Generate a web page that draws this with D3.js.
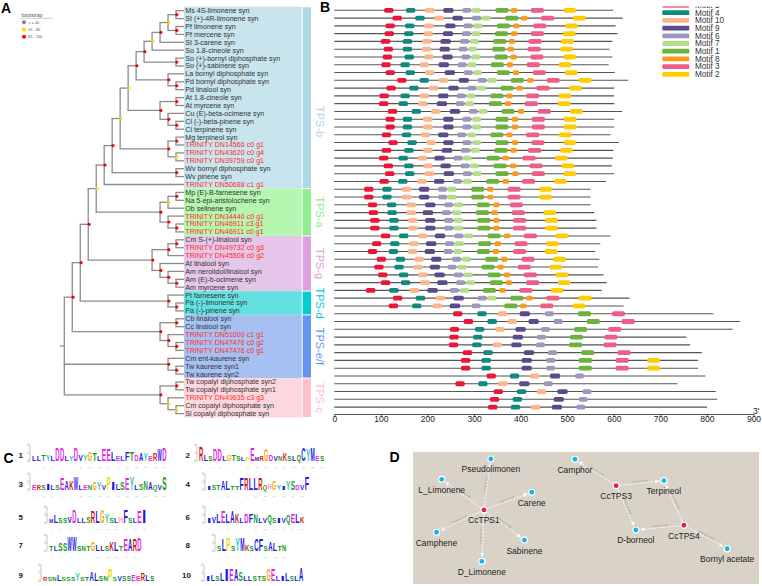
<!DOCTYPE html>
<html><head><meta charset="utf-8">
<script src="https://cdn.jsdelivr.net/npm/d3@7"></script>
<style>body{margin:0;background:#fff}svg{display:block}</style>
</head><body>
<svg id="chart" width="762" height="586"></svg>
<script>
// ===================== DATA =====================
const tipNames = ["Ms 4S-limonene syn","St (+)-4R-limonene syn","Pf limonene syn","Pf mercene syn","St 3-carene syn","So 1.8-cineole syn","So (+)-bornyl diphosphate syn","So (+)-sabinene syn","La bornyl diphosphate syn","Pd bornyl diphosphate syn","Pd linalool syn","At 1.8-cineole syn","At myrcene syn","Cu (E)-beta-ocimene syn","Cl (-)-beta-pinene syn","Cl terpinene syn","Mg terpineol syn","TRINITY DN14566 c0 g1","TRINITY DN43620 c0 g4","TRINITY DN39759 c0 g1","Wv bornyl diphosphate syn","Wv pinene syn","TRINITY DN50688 c1 g1","Mp (E)-B-farnesene syn","Na 5-epi-aristolochene syn","Ob selinene syn","TRINITY DN34440 c0 g1","TRINITY DN46911 c3 g1","TRINITY DN46911 c0 g1","Cm S-(+)-linalool syn","TRINITY DN49732 c0 g3","TRINITY DN45508 c0 g2","At linalool syn","Am nerolidol/linalool syn","Am (E)-b-ocimene syn","Am myrcene syn","Pt farnesene syn","Pa (-)-limonene syn","Pa (-)-pinene syn","Cb linalool syn","Cc linalool syn","TRINITY DN51000 c1 g1","TRINITY DN47476 c0 g2","TRINITY DN47476 c0 g1","Cm ent-kaurene syn","Tw kaurene syn1","Tw kaurene syn2","Tw copalyl diphosphate syn2","Tw copalyl diphosphate syn1","TRINITY DN49635 c3 g3","Cm copalyl diphosphate syn","Sl copalyl diphosphate syn"];

// topology: [bootstrapClass, child, child...]; leaves are indices into tipNames ("r" = 81-100, "y" = 41-80)
const cladeTPSb = ["r",["r",["y",["y",["r",["r",["y",["r",["y",["r",0,1],["r",2,3]],4],5],["r",6,7]],["r",8,["r",9,10]]],["r",["r",11,12],["r",13,["r",14,15]]]],["r",["r",16,17],["y",18,19]]],["r",20,21]],22];
const cladeTPSa = ["r",["y",["r",23,24],25],["r",26,["r",27,28]]];
const cladeTPSg = ["r",["r",["r",29,30],31],["r",32,["r",33,["r",34,35]]]];
const cladeTPSd = ["r",36,["r",37,38]];
const cladeTPSef = ["r",["r",39,40],["r",41,["r",42,43]]];
const cladeKaurene = ["r",44,["r",45,46]];
const cladeTPSc = ["r",["r",47,48],["y",49,["y",50,51]]];
const treeTopology = ["",["r",["r",["r",["y",cladeTPSb,cladeTPSa],cladeTPSg],cladeTPSd],cladeTPSef],cladeKaurene,cladeTPSc];

const cladeNames = ["TPS-b","TPS-a","TPS-g","TPS-d","TPS-e/f","TPS-c"];
const cladeFirst = [0,23,29,36,39,47];
const cladeLast = [22,28,35,38,46,51];
const bootstrapLabels = ["< = 40","41 - 80","81 - 100"];

const motifNames = ["Motif 5","Motif 4","Motif 10","Motif 9","Motif 6","Motif 7","Motif 1","Motif 8","Motif 3","Motif 2"];
const motifWidths = [20,20,20,22,19,19,28,14,28,27];
const seqLengths = [599,619,604,608,597,591,597,589,602,631,601,601,601,618,601,601,593,611,599,598,596,601,583,550,550,550,558,563,563,593,571,560,569,566,578,585,574,634,621,814,871,855,756,764,789,781,781,797,737,819,822,800];
const motifStarts = [
[107,154,195,234,275,295,346,379,422,492],
[125,174,215,254,296,316,367,401,444,513],
[110,152,193,238,278,299,349,384,427,496],
[108,150,192,233,274,295,345,379,422,491],
[100,147,189,228,270,291,341,374,417,487],
[106,147,188,226,267,288,339,372,415,485],
[104,151,193,232,273,294,344,378,421,492],
[101,142,183,224,265,286,336,370,413,482],
[110,153,195,237,278,298,349,383,426,495],
[135,183,224,267,308,329,379,414,456,525],
[112,161,203,245,286,306,357,391,434,504],
[97,142,183,223,263,284,335,369,412,482],
[96,138,180,220,261,281,332,366,409,480],
[115,166,208,248,289,310,359,394,437,506],
[110,147,191,234,275,296,346,381,424,493],
[110,147,191,234,275,296,346,381,424,493],
[102,145,186,223,264,285,335,369,412,482],
[116,157,198,234,275,296,346,381,423,492],
[102,150,191,231,272,293,344,378,416,485],
[96,138,179,215,256,276,327,361,404,474],
[106,150,191,228,271,291,342,377,419,488],
[109,152,194,235,276,297,346,382,424,492],
[97,137,178,214,255,276,326,361,403,472],
[64,103,145,182,223,243,294,328,372,440],
[64,103,145,182,223,243,294,328,372,440],
[72,113,155,195,236,257,306,341,377,null],
[74,114,155,190,231,253,304,337,381,449],
[77,118,159,195,236,257,307,341,384,453],
[77,118,159,195,236,257,307,341,384,453],
[100,139,180,216,258,279,329,364,407,475],
[81,120,161,197,238,259,309,344,387,455],
[72,117,158,194,235,256,306,340,384,452],
[91,132,172,208,253,274,324,358,402,470],
[86,129,170,205,243,265,316,350,394,462],
[94,139,180,215,257,278,329,364,407,475],
[100,143,185,221,262,283,334,368,412,480],
[68,118,162,200,248,270,319,354,397,465],
[126,175,218,256,308,329,378,412,455,525],
[117,167,211,248,295,null,365,399,442,512],
[255,307,351,398,452,null,523,null,596,null],
[278,329,372,417,471,null,542,null,617,null],
[248,302,346,389,444,null,515,null,588,null],
[247,298,null,383,435,null,506,null,580,null],
[246,296,340,380,433,null,504,null,578,null],
[276,320,null,407,459,null,530,null,608,null],
[272,316,null,402,455,null,525,null,604,672],
[272,316,null,402,455,null,525,null,604,672],
[327,377,420,463,517,null,null,null,null,null],
[260,309,352,397,450,null,null,null,null,null],
[342,392,435,479,533,null,null,null,null,null],
[334,383,null,471,525,null,null,null,null,null],
[330,379,422,467,520,null,null,null,null,null]
];
const axisTicks = [0,100,200,300,400,500,600,700,800,900];

const logoIds = ["1","2","3","4","5","6","7","8","9","10"];
const logoMain = ["LLTYLDDLYDVYGTLEELELFTDAYERWD","RLSDDLGTSLPEMRGDVNKSLQCYMES","ERSILSEAKWLENGYVPILSEYLSNAQVS","ISTALTTFRLLRQHGYIYSDVF","MLSSVDLLSRLGYSLHFSLEI","IVLELAKLDFNLVQSIVQELK","TLSSWWSNTGLLSKLTEARD","SLPSYMKSCFSALTN","RSNLSSSYSTALSNPSVSSEERLS","ILSLIEASLLSTSGELILSLA"];
const logoHeights = [
[3,3,4,4,3,8,8,3,3,8,4,4,6,5,3,7,7,6,3,3,6,6,4,5,5,3,5,7,8],
[9,4,3,7,7,3,4,4,3,2,2,8,2,3,7,4,3,3,5,3,3,4,8,7,8,3,3],
[3,3,3,4,3,3,7,6,6,8,3,3,3,5,5,3,8,5,4,5,7,8,3,4,6,5,3,3,8],
[2,3,3,6,6,2,2,7,7,7,7,7,3,4,6,3,2,6,6,3,3,8],
[2,5,3,3,4,8,3,3,4,7,7,8,6,3,3,4,8,3,3,7,8],
[3,4,6,7,6,7,6,3,6,6,6,3,3,5,3,3,3,5,6,6,4],
[3,3,5,5,9,9,3,3,3,6,4,3,3,6,6,3,7,7,7,8],
[3,7,8,3,8,8,4,3,7,7,3,6,5,3,4],
[2,2,2,4,2,2,2,5,2,2,6,5,3,3,7,2,3,3,3,4,3,5,4,3],
[3,4,3,5,7,7,7,6,3,3,3,3,3,7,7,3,3,5,3,3,8]
];

const netNames = ["Pseudolimonen","L_Limonene","Carene","CcTPS1","Camphene","Sabinene","D_Limonene","Camphor","CcTPS3","Terpineol","D-borneol","CcTPS4","Bornyl acetate"];
const netIsEnzyme = [0,0,0,1,0,0,0,0,1,0,0,1,0];
const netLayoutX = [22.5,8.3,34.3,20.5,6.8,32.2,19.9,46.8,58.7,72.5,64.4,78.3,90.8];
const netLayoutY = [5.3,20.7,30.5,43.9,60.8,66.7,82.8,5.5,25.5,21.7,59.1,55.5,73.3];
const netEdgeSource = ["CcTPS1","CcTPS1","CcTPS1","CcTPS1","CcTPS1","CcTPS1","CcTPS3","CcTPS3","CcTPS3","CcTPS4","CcTPS4","CcTPS4"];
const netEdgeTarget = ["Pseudolimonen","L_Limonene","Carene","Camphene","Sabinene","D_Limonene","Camphor","Terpineol","D-borneol","Terpineol","D-borneol","Bornyl acetate"];
const netEdgeLabel = "interacts with";

// ===================== STYLE =====================
const FONT = "'Liberation Sans', Arial, sans-serif";
const bandFill = ["#c8e4ec","#b5f6b1","#e6c6e8","#62e1e0","#a6c0f2","#fdd7de"];
const stripFill = ["#add8e6","#90ee90","#dda0dd","#00ced1","#6495ed","#ffc0cb"];
const cladeLabelShift = [24,0,0,0,0,0];
const bootColors = {"g":"#808080","y":"#ffd700","r":"#ff0000"};
const motifColors = ["#ee1638","#0f8a7e","#fdb68c","#5b4a8c","#9e98bf","#b5de8b","#6cb33e","#fb9a1e","#ef5e88","#ffcc00"];
const aaColor = ch => "ACFILMVW".includes(ch) ? "#1a1ae6" : "NQST".includes(ch) ? "#139a13" : "DE".includes(ch) ? "#e51ee5" :
  "KR".includes(ch) ? "#d91414" : ch === "H" ? "#ff9fb4" : ch === "G" ? "#ffa500" : ch === "P" ? "#eee000" : ch === "Y" ? "#2dc9b0" : "#333";

const svg = d3.select("#chart");
const defs = svg.append("defs");

// panel letters
[["A",1,12.7],["B",320,11.7],["C",3.5,463],["D",389.5,462]].forEach(([t,x,y]) =>
  svg.append("text").text(t).attr("x",x).attr("y",y).attr("font-family",FONT).attr("font-weight","bold").attr("font-size",14).attr("fill","#000"));

// ===================== PANEL A =====================
const gA = svg.append("g");
const yA = d3.scaleLinear().domain([0, tipNames.length - 1]).range([10.7, 413.6]);
const tipX = 184, rootX = 64.3;
const root = d3.hierarchy(treeTopology, d => Array.isArray(d) ? d.slice(1) : null);
d3.cluster().size([1, tipX - rootX]).separation(() => 1)(root);
const X = n => rootX + n.y;
root.eachAfter(n => {
  n.vy = n.children ? (n.children[0].vy + n.children[n.children.length - 1].vy) / 2 : yA(n.data);
});

// clade bands
cladeNames.forEach((c, i) => {
  const y0 = yA(cladeFirst[i]) - 3.95, y1 = yA(cladeLast[i]) + 3.95;
  gA.append("rect").attr("x", tipX).attr("y", y0).attr("width", 117.7).attr("height", y1 - y0).attr("fill", bandFill[i]);
  gA.append("rect").attr("x", 302.7).attr("y", y0 + 0.5).attr("width", 8.3).attr("height", y1 - y0 - 1).attr("fill", stripFill[i]);
  gA.append("text").text(c).attr("transform", `translate(320,${(y0 + y1) / 2 + cladeLabelShift[i]}) rotate(90)`)
    .attr("text-anchor","middle").attr("dy","0.35em").attr("font-family",FONT).attr("font-size",11).attr("fill",stripFill[i]);
});

// branches
const branchColor = "#8c8c8c";
root.each(n => {
  if (!n.children) return;
  const c0 = n.children[0], c1 = n.children[n.children.length - 1];
  gA.append("line").attr("x1",X(n)).attr("x2",X(n)).attr("y1",c0.vy).attr("y2",c1.vy).attr("stroke",branchColor).attr("stroke-width",1.3);
  n.children.forEach(c => {
    gA.append("line").attr("x1",X(n) - 0.6).attr("x2",X(c)).attr("y1",c.vy).attr("y2",c.vy).attr("stroke",branchColor).attr("stroke-width",1.3);
  });
});
gA.append("line").attr("x1",X(root) - 4.5).attr("x2",X(root)).attr("y1",root.vy).attr("y2",root.vy).attr("stroke",branchColor).attr("stroke-width",1.3);

// bootstrap dots
root.each(n => {
  if (n.children && n.data[0]) {
    gA.append("circle").attr("cx",X(n) + 0.8).attr("cy",n.vy).attr("r",1.6).attr("fill",bootColors[n.data[0]]);
  }
});

// tip labels
tipNames.forEach((t, i) => {
  gA.append("text").text(t).attr("x", tipX + 1.3).attr("y", yA(i)).attr("dy","0.35em")
    .attr("font-family",FONT).attr("font-size",7.1).attr("fill", t.startsWith("TRINITY") ? "#ff2d2d" : "#333");
});

// bootstrap legend
gA.append("text").text("bootstrap").attr("x",21.5).attr("y",15).attr("dy","0.35em").attr("font-family",FONT).attr("font-size",5).attr("fill","#555");
gA.append("line").attr("x1",20.7).attr("x2",53).attr("y1",18.3).attr("y2",18.3).attr("stroke","#999").attr("stroke-width",0.5);
["g","y","r"].forEach((k, i) => {
  const y = 22.3 + i * 7.2;
  gA.append("circle").attr("cx",24).attr("cy",y).attr("r",2).attr("fill",bootColors[k]);
  gA.append("text").text(bootstrapLabels[i]).attr("x",28.3).attr("y",y).attr("dy","0.35em").attr("font-family",FONT).attr("font-size",3.8).attr("fill","#555");
});

// ===================== PANEL B =====================
const gB = svg.append("g");
const xB = d3.scaleLinear().domain([0, 900]).range([334.3, 753.5]);
const yB = d3.scaleLinear().domain([0, seqLengths.length - 1]).range([10.3, 407.1]);
seqLengths.forEach((len, i) => {
  gB.append("line").attr("x1",xB(0)).attr("x2",xB(len)).attr("y1",yB(i)).attr("y2",yB(i)).attr("stroke","#555").attr("stroke-width",1.1);
});
motifStarts.forEach((row, i) => {
  row.forEach((s, m) => {
    if (s == null) return;
    gB.append("rect").attr("x",xB(s)).attr("y",yB(i) - 2.4).attr("width",xB(motifWidths[m]) - xB(0)).attr("height",4.8)
      .attr("rx",1.6).attr("fill",motifColors[m]);
  });
});
const axB = gB.append("g").attr("transform","translate(0,414)")
  .call(d3.axisBottom(xB).tickValues(axisTicks).tickSize(3).tickSizeOuter(0).tickPadding(-1));
axB.selectAll("text").attr("font-family",FONT).attr("font-size",8.5).attr("fill","#222");
axB.selectAll("line,path").attr("stroke","#555");
gB.append("text").text("3'").attr("x",753).attr("y",413.5).attr("font-family",FONT).attr("font-size",8.5).attr("fill","#222");

// legend (top entry clipped as in figure)
defs.append("clipPath").attr("id","legclip").append("rect").attr("x",650).attr("y",6.5).attr("width",110).attr("height",80);
const gL = svg.append("g").attr("clip-path","url(#legclip)");
motifNames.forEach((m, k) => {
  const y = 5 + k * 7.7;
  gL.append("rect").attr("x",662.3).attr("y",y - 2.4).attr("width",27).attr("height",4.8).attr("rx",1.2).attr("fill",motifColors[k]);
  gL.append("text").text(m).attr("x",695).attr("y",y).attr("dy","0.35em").attr("font-family",FONT).attr("font-size",8.2).attr("fill","#333");
});

// ===================== PANEL C =====================
const gC = svg.append("g");
const logoLeft = [32,199,32,207,49,207,49,217,43,206];
const logoBase = [461,461,490,490,523,523,551,551,581,581];
const colW = 4.65, fullH = 16, CAP = 0.716, FS = 20;
logoIds.forEach((id, li) => {
  const left = li % 2 === 0;
  gC.append("text").text(id).attr("x", left ? 18.5 : (id === "10" ? 182 : 185.5)).attr("y", logoBase[li] - 6).attr("dy","0.35em")
    .attr("font-family",FONT).attr("font-weight","bold").attr("font-size",8).attr("fill","#222");
  const x0 = logoLeft[li], yb = logoBase[li];
  // small axis
  gC.append("line").attr("x1",x0 - 2).attr("x2",x0 - 2).attr("y1",yb).attr("y2",yb - fullH).attr("stroke","#777").attr("stroke-width",0.4);
  const axT = gC.append("text").attr("font-family",FONT).attr("font-size",2.6).attr("fill","#888").attr("text-anchor","end");
  [0,2,4].forEach(k => {
    gC.append("line").attr("x1",x0 - 3).attr("x2",x0 - 2).attr("y1",yb - k * fullH / 4).attr("y2",yb - k * fullH / 4).attr("stroke","#777").attr("stroke-width",0.4);
    axT.append("tspan").text(k).attr("x",x0 - 3.4).attr("y",yb - k * fullH / 4 + 0.9);
  });
  const showNums = yb + 7 < 586;
  const numT = showNums ? gC.append("text").attr("font-family",FONT).attr("font-size",2.4).attr("fill","#aaa").attr("text-anchor","middle") : null;
  const main = logoMain[li], hs = logoHeights[li];
  for (let k = 0; k < main.length; k++) {
    const h = hs[k] / 10 * fullH;
    const x = x0 + k * colW;
    const t = gC.append("text").text(main[k]).attr("font-family",FONT).attr("font-weight","bold").attr("font-size",FS).attr("fill",aaColor(main[k]));
    const adv = t.node().getComputedTextLength() || 12;
    t.attr("transform", `translate(${x},${yb}) scale(${colW * 0.93 / adv},${h / (FS * CAP)})`);
    if (showNums && k % 2 === 0) numT.append("tspan").text(k + 1).attr("x", x + colW / 2).attr("y", yb + 6.6);
  }
});

// ===================== PANEL D =====================
const gD = svg.append("g");
const xD = d3.scaleLinear().domain([0, 100]).range([413, 759]);
const yD = d3.scaleLinear().domain([0, 100]).range([452, 584]);
gD.append("rect").attr("x",xD(0)).attr("y",yD(0)).attr("width",xD(100) - xD(0)).attr("height",yD(100) - yD(0)).attr("fill","#d9d3c7");
defs.append("marker").attr("id","arr").attr("viewBox","0 0 6 6").attr("refX",6).attr("refY",3)
  .attr("markerWidth",4).attr("markerHeight",4).attr("markerUnits","userSpaceOnUse").attr("orient","auto")
  .append("path").attr("d","M0,0L6,3L0,6Z").attr("fill","#fff");
const nodeIdx = name => netNames.indexOf(name);
netEdgeSource.forEach((s, e) => {
  const a = nodeIdx(s), b = nodeIdx(netEdgeTarget[e]);
  const x1 = xD(netLayoutX[a]), y1 = yD(netLayoutY[a]), x2 = xD(netLayoutX[b]), y2 = yD(netLayoutY[b]);
  const L = Math.hypot(x2 - x1, y2 - y1), ux = (x2 - x1) / L, uy = (y2 - y1) / L;
  gD.append("line").attr("x1",x1 + ux * 4).attr("y1",y1 + uy * 4).attr("x2",x2 - ux * 4.5).attr("y2",y2 - uy * 4.5)
    .attr("stroke","#fff").attr("stroke-width",0.9).attr("stroke-dasharray","2,1.4").attr("marker-end","url(#arr)");
  let ang = Math.atan2(y2 - y1, x2 - x1) * 180 / Math.PI;
  if (ang > 90) ang -= 180; if (ang < -90) ang += 180;
  gD.append("text").text(netEdgeLabel).attr("transform",`translate(${(x1 + x2) / 2},${(y1 + y2) / 2}) rotate(${ang})`)
    .attr("text-anchor","middle").attr("dy","-0.4em").attr("font-family",FONT).attr("font-size",2.8).attr("fill","#9b958b");
});
netNames.forEach((n, i) => {
  const x = xD(netLayoutX[i]), y = yD(netLayoutY[i]);
  gD.append("circle").attr("cx",x).attr("cy",y).attr("r",3.6).attr("fill","#fff");
  gD.append("circle").attr("cx",x).attr("cy",y).attr("r",2.4).attr("fill",netIsEnzyme[i] ? "#e8195c" : "#14b4ee");
  gD.append("text").text(n).attr("x",x).attr("y",y + 10.5).attr("dy","0.35em").attr("text-anchor","middle")
    .attr("font-family",FONT).attr("font-size",8.5).attr("fill","#1c1c1c");
});
</script>
</body></html>
